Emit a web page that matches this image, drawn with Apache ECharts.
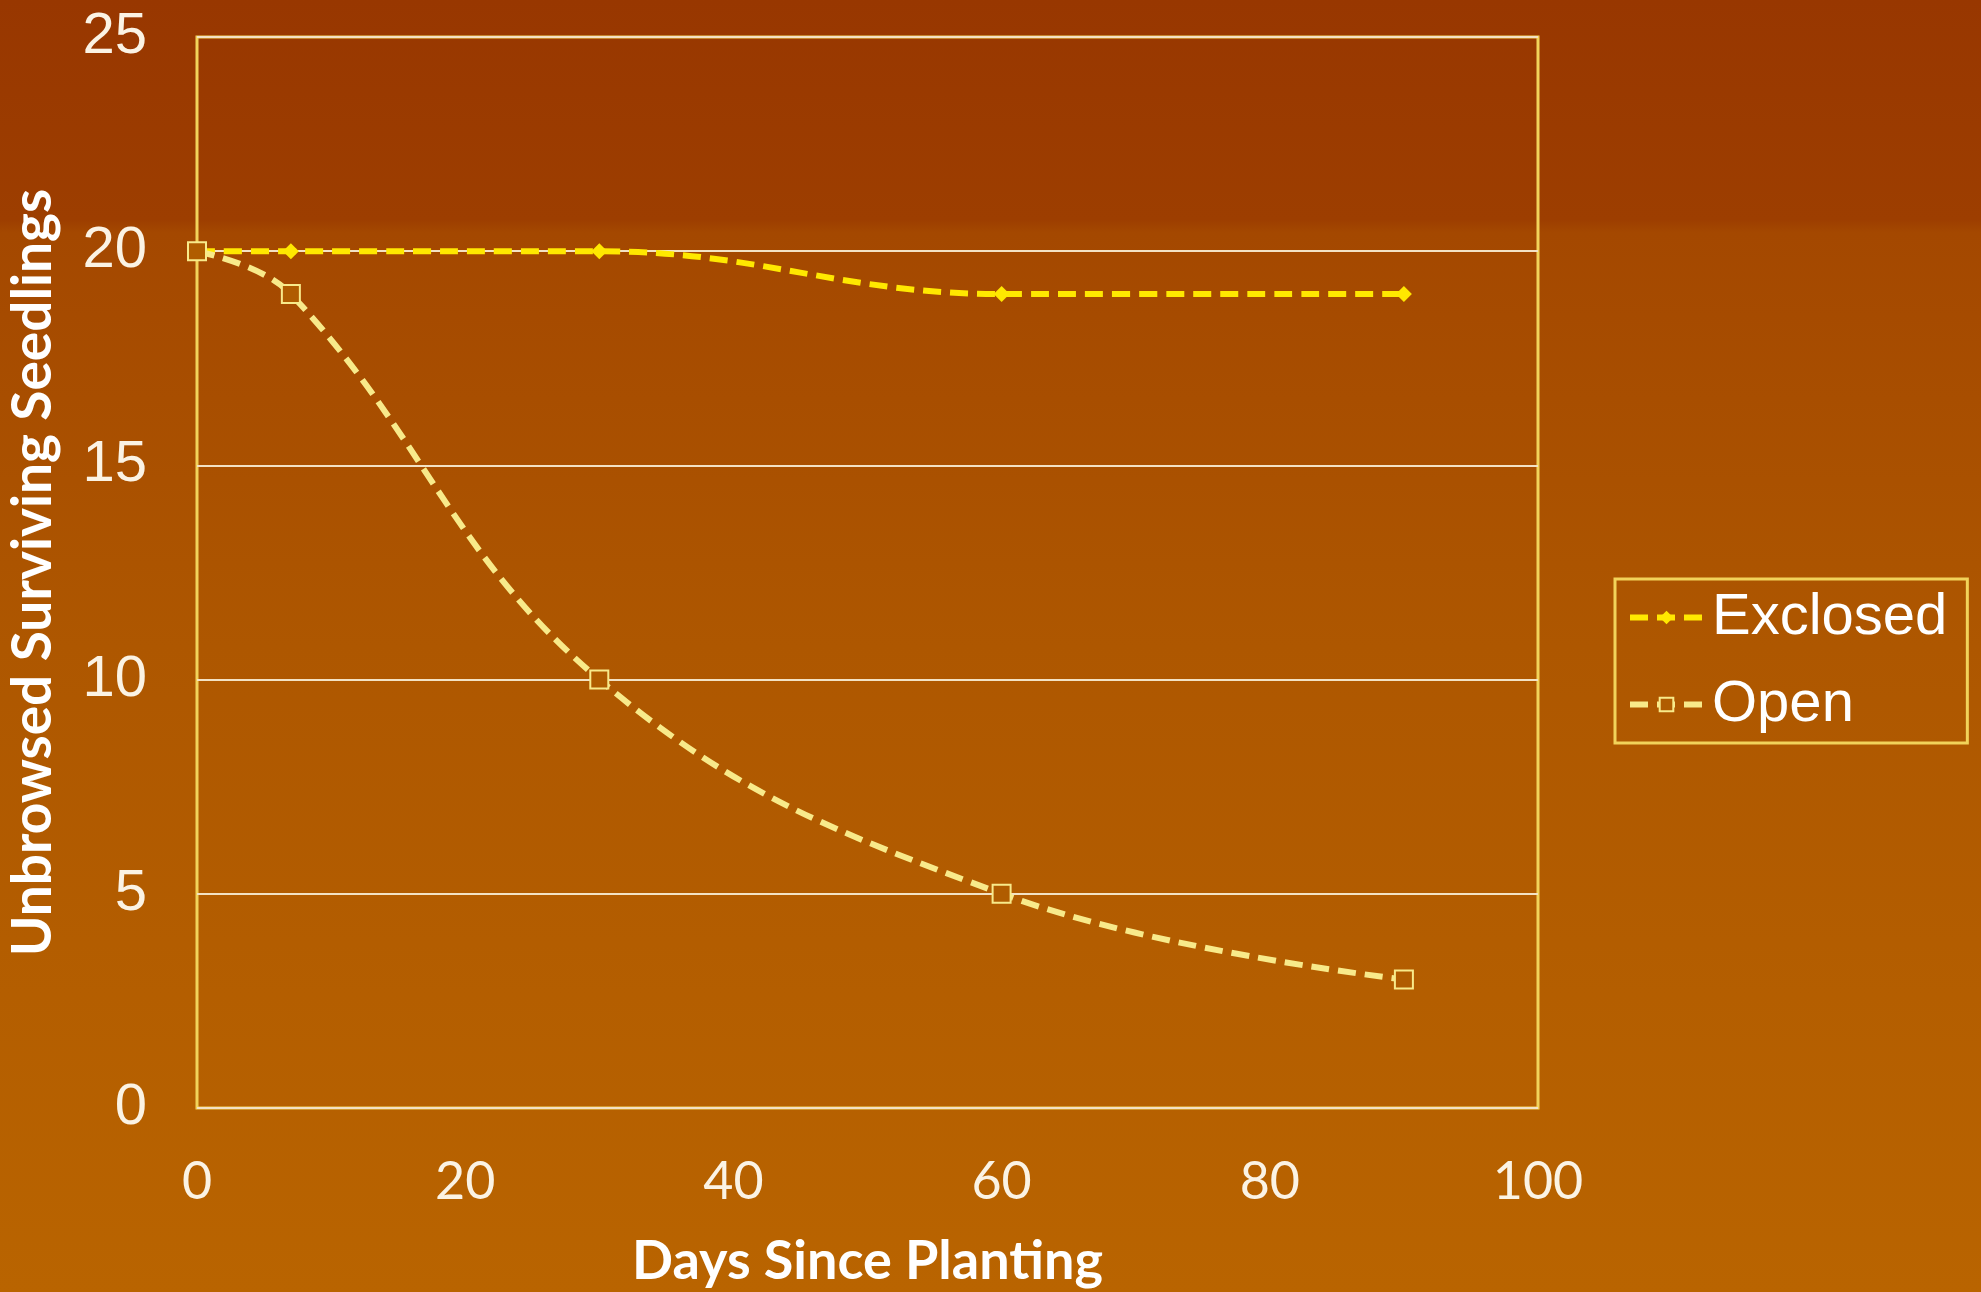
<!DOCTYPE html>
<html>
<head>
<meta charset="utf-8">
<script src="https://cdn.jsdelivr.net/npm/echarts@6/dist/echarts.min.js"></script>
<style>
html,body{margin:0;padding:0;width:1981px;height:1292px;overflow:hidden;}
#chart{width:1981px;height:1292px;}
</style>
</head>
<body>
<div id="chart"></div>
<script>
const days = [0, 7, 30, 60, 90];
const exclosed = [20, 20, 20, 19, 19];
const open = [20, 19, 10, 5, 3];
const xTicks = [0, 20, 40, 60, 80, 100];
const yTicks = [0, 5, 10, 15, 20, 25];

const chart = echarts.init(document.getElementById('chart'), null, {renderer: 'canvas'});
const pair = (xs, ys) => xs.map((x, i) => [x, ys[i]]);

chart.setOption({
  backgroundColor: {
    type: 'linear', x: 0, y: 0, x2: 0, y2: 1,
    colorStops: [
      {offset: 0, color: '#983700'},
      {offset: 0.17, color: '#9d3e00'},
      {offset: 0.18, color: '#a44800'},
      {offset: 0.5, color: '#ae5700'},
      {offset: 1, color: '#b96400'}
    ]
  },
  animation: false,
  grid: {left: 197, right: 443, top: 37, bottom: 184, outerBoundsMode: 'none', containLabel: false,
    show: true, borderColor: '#f2d35a', borderWidth: 3, backgroundColor: 'transparent'},
  legend: {
    orient: 'vertical',
    left: 1615, top: 579,
    padding: [8, 20, 8, 12],
    borderColor: '#f2d35a', borderWidth: 3,
    itemWidth: 73, itemHeight: 17, itemGap: 26,
    lineStyle: {width: 6},
    textStyle: {color: '#ffffff', fontFamily: 'Liberation Sans', fontSize: 58, lineHeight: 61, padding: [0,0,0,4]},
    data: ['Exclosed', 'Open']
  },
  xAxis: {
    type: 'value', min: 0, max: 100, interval: 20,
    axisLine: {show: false}, axisTick: {show: false}, splitLine: {show: false},
    axisLabel: {color: '#fbf3e4', fontFamily: 'Lato', fontSize: 52, margin: 48,
      formatter: v => xTicks.includes(v) ? String(v) : ''},
    name: 'Days Since Planting', nameLocation: 'middle', nameGap: 127,
    nameTextStyle: {color: '#ffffff', fontFamily: 'Lato', fontWeight: 'bold', fontSize: 54}
  },
  yAxis: {
    type: 'value', min: 0, max: 25, interval: 5,
    axisLine: {show: false}, axisTick: {show: false},
    splitLine: {show: true, lineStyle: {color: '#f3e2c4', width: 2}},
    axisLabel: {color: '#fbf3e4', fontFamily: 'Liberation Sans', fontSize: 58, margin: 50,
      formatter: v => yTicks.includes(v) ? String(v) : ''},
    name: 'Unbrowsed Surviving Seedlings', nameLocation: 'middle', nameGap: 136, nameRotate: 90,
    nameTextStyle: {color: '#ffffff', fontFamily: 'Lato', fontWeight: 'bold', fontSize: 55}
  },
  series: [
    {
      name: 'Exclosed', type: 'line', smooth: 0.4,
      data: pair(days, exclosed),
      symbol: 'diamond', symbolSize: 16,
      lineStyle: {color: '#ffe800', width: 6, type: [18, 9]},
      itemStyle: {color: '#ffe800'},
      z: 3
    },
    {
      name: 'Open', type: 'line', smooth: 0.4,
      data: pair(days, open),
      symbol: 'rect', symbolSize: 18,
      lineStyle: {color: '#f8ea8a', width: 6, type: [18, 9]},
      itemStyle: {color: '#b05c00', borderColor: '#f8ea8a', borderWidth: 2},
      z: 4
    }
  ]
});
</script>
</body>
</html>
